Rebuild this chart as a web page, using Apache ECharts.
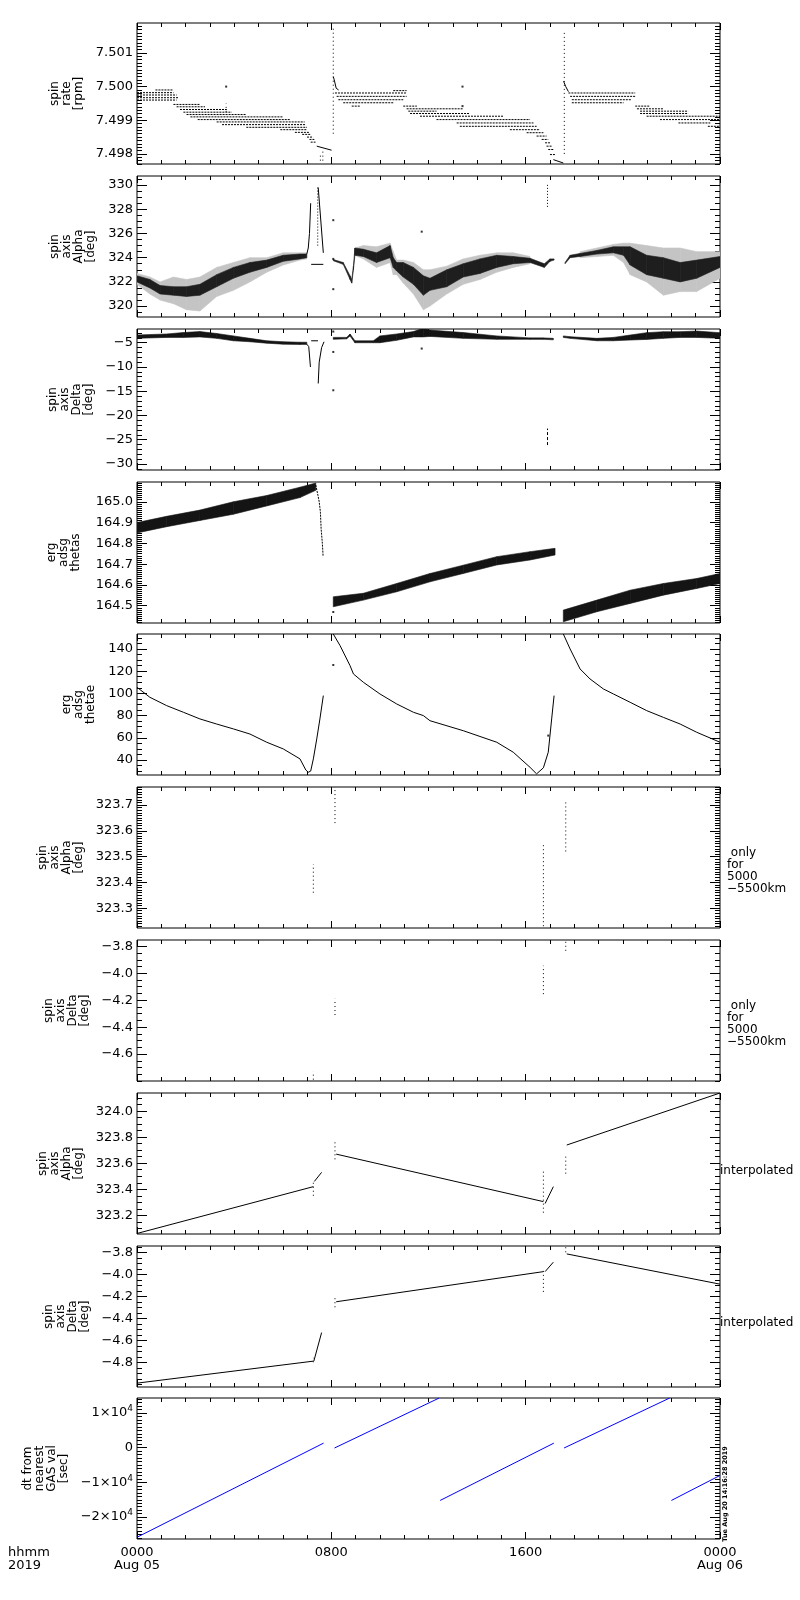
<!DOCTYPE html>
<html><head><meta charset="utf-8">
<script src="https://cdn.jsdelivr.net/npm/echarts@6/dist/echarts.min.js"></script>
<style>html,body{margin:0;padding:0;background:#fff}#c{width:800px;height:1600px}</style>
</head><body><div id="c"></div>
<script>
// ---------------- time axis (hours since 0000 Aug 05 2019) ----------------
const timeTicks = [0, 8, 16, 24];
const timeTickLabels = {0: '0000\nAug 05', 8: '0800', 16: '1600', 24: '0000\nAug 06'};

// ---------------- panel 1: spin rate [rpm] ----------------
const rateTicks = [7.498, 7.499, 7.500, 7.501];
// rows of quantised samples: [tStart, tEnd, rpm]
const rateRows = [
 [0.76,1.50,7.49990],[0.00,1.50,7.49982],[0.00,1.63,7.49975],[0.00,1.70,7.49967],[0.00,1.63,7.49960],
 [1.50,2.59,7.49947],[1.63,2.80,7.49940],[1.77,3.70,7.49932],[1.91,3.90,7.49924],[2.04,4.50,7.49917],
 [2.20,6.00,7.49910],[2.50,6.30,7.49902],[3.28,6.90,7.49895],[3.50,6.92,7.49887],[4.50,7.00,7.49879],
 [5.90,7.00,7.49872],[6.50,7.10,7.49864],[6.80,7.15,7.49858],[7.00,7.25,7.49850],[7.10,7.30,7.49843],
 [7.15,7.35,7.49835],
 [10.55,11.10,7.49988],[8.15,11.10,7.49981],[8.22,11.10,7.49971],[8.29,10.96,7.49961],[8.49,10.55,7.49952],
 [8.84,9.18,7.49942],[10.96,11.52,7.49942],[11.10,13.43,7.49934],[11.17,12.33,7.49927],[11.24,13.70,7.49920],
 [11.65,15.08,7.49912],[12.33,16.18,7.49902],[13.16,16.32,7.49892],[13.29,16.45,7.49882],[15.35,16.59,7.49872],
 [16.04,16.73,7.49863],[16.45,16.86,7.49853],[16.66,16.93,7.49843],[16.80,17.00,7.49833],[16.86,17.07,7.49823],
 [16.93,17.14,7.49813],[17.00,17.21,7.49798],
 [17.76,20.51,7.49981],[17.83,20.51,7.49971],[17.90,20.37,7.49961],[17.90,20.03,7.49952],
 [20.51,21.12,7.49942],[20.58,21.67,7.49934],[20.71,22.69,7.49927],[20.71,22.69,7.49920],[20.98,24.00,7.49912],
 [21.53,24.00,7.49902],[22.29,23.60,7.49892],[23.50,24.00,7.49882]
];
// vertical dotted runs: [t, from, to]
const rateSpikes = [[8.08,7.4986,7.5018],[17.59,7.4980,7.50164],[3.67,7.49925,7.4995],[7.55,7.4978,7.4980],[7.65,7.4978,7.4981]];
const rateDots = [[3.67,7.5000],[13.40,7.5000],[13.40,7.49942]];
const rateLines = [
 [[7.40,7.49823],[8.01,7.49811]],
 [[8.08,7.50030],[8.12,7.50020],[8.20,7.49995],[8.30,7.49990]],
 [[17.14,7.49783],[17.55,7.49773]],
 [[17.56,7.50016],[17.65,7.50000],[17.76,7.49985]]
];

// ---------------- panel 2: spin axis Alpha [deg] ----------------
const alphaTicks = [320, 322, 324, 326, 328, 330];
// bands: [t, low, high]
const alphaCoreA = [[0,322.0,322.5],[0.53,321.5,322.2],[0.95,321.0,321.7],[1.5,320.9,321.6],[2.04,320.8,321.6],[2.59,320.9,321.8],[3.28,321.6,322.6],[3.97,322.3,323.2],[4.65,322.8,323.6],[5.34,323.2,323.8],[6.02,323.7,324.2],[6.71,323.9,324.3],[6.99,324.0,324.3]];
const alphaOuterA = [[0,321.8,322.7],[0.53,321.0,322.4],[0.95,320.5,322.0],[1.5,320.2,322.4],[2.04,319.7,322.2],[2.59,319.6,322.4],[3.28,320.8,323.2],[3.97,321.3,323.6],[4.65,322.0,324.0],[5.34,322.8,324.0],[6.02,323.4,324.4],[6.71,323.8,324.4],[6.99,323.9,324.4]];
const alphaCoreB = [[8.08,323.75,323.85],[8.49,323.45,323.6],[8.77,322.2,322.5],[8.84,321.9,322.2],[8.91,323.0,323.3],[8.97,324.2,324.8],[9.32,324.1,324.7],[9.86,323.6,324.4],[10.42,324.0,325.0],[10.55,323.2,324.0],[10.69,322.9,323.6],[10.96,322.4,323.6],[11.38,321.8,323.2],[11.79,320.9,322.5],[12.06,321.3,322.3],[12.75,321.6,323.0],[13.43,322.4,323.5],[14.12,322.7,323.9],[14.81,323.2,324.2],[15.49,323.5,324.1],[16.18,323.6,323.95],[16.77,323.2,323.5],[17.0,323.7,323.9],[17.17,323.8,323.9]];
const alphaOuterB = [[8.97,324.2,324.8],[9.32,323.9,325.0],[9.86,323.2,324.9],[10.42,323.6,325.2],[10.55,322.6,324.5],[10.69,322.6,323.8],[10.96,321.9,323.8],[11.38,321.0,323.6],[11.79,319.7,323.0],[12.06,320.0,323.0],[12.75,321.0,323.3],[13.43,321.8,323.9],[14.12,322.2,324.2],[14.81,322.8,324.4],[15.49,323.2,324.4],[16.18,323.5,324.1]];
const alphaCoreC = [[17.62,323.5,323.6],[17.83,324.0,324.2],[18.24,324.1,324.35],[18.93,324.3,324.6],[19.61,324.4,324.9],[20.03,324.2,324.9],[20.3,323.4,324.9],[20.98,322.6,324.2],[21.67,322.3,324.0],[22.36,322.0,323.6],[23.04,322.3,323.8],[24.0,323.2,324.1]];
const alphaOuterC = [[18.24,324.0,324.5],[18.93,324.1,324.8],[19.61,324.2,325.1],[20.03,323.6,325.2],[20.3,322.6,325.2],[20.98,322.0,325.0],[21.67,320.9,324.8],[22.36,321.2,324.8],[23.04,321.2,324.5],[24.0,322.3,324.5]];
const alphaSpikes = [[7.44,325.0,329.8],[16.9,328.2,330.1]];
const alphaLines = [
 [[6.99,324.3],[7.05,324.8],[7.10,326.0],[7.15,328.5]],
 [[7.17,323.45],[7.67,323.45]],
 [[7.46,329.8],[7.67,324.4]]
];
const alphaDots = [[8.08,327.1],[8.08,323.9],[8.08,321.4],[11.72,326.15]];

// ---------------- panel 3: spin axis Delta [deg] ----------------
const deltaTicks = [-30, -25, -20, -15, -10, -5];
const deltaBandA = [[0,-4.1,-3.4],[1.22,-3.9,-3.2],[1.91,-3.9,-2.9],[2.59,-3.8,-2.7],[3.28,-4.1,-3.1],[3.97,-4.6,-3.6],[4.65,-4.8,-4.1],[5.34,-5.1,-4.6],[6.02,-5.3,-4.8],[6.71,-5.35,-4.9],[6.99,-5.35,-4.9]];
const deltaBandB = [[8.08,-4.3,-3.9],[8.63,-4.2,-3.9],[8.77,-3.6,-3.2],[8.97,-5.0,-4.6],[9.73,-5.0,-4.6],[10.0,-5.0,-3.6],[10.69,-4.5,-3.2],[11.38,-3.8,-2.7],[11.79,-3.8,-2.0],[12.06,-3.7,-2.4],[13.43,-4.1,-2.9],[14.81,-4.3,-3.6],[16.18,-4.3,-4.0],[16.73,-4.3,-4.0],[17.14,-4.4,-4.1]];
const deltaBandC = [[17.55,-3.9,-3.6],[17.83,-4.1,-3.76],[18.93,-4.59,-4.1],[19.61,-4.59,-3.9],[20.3,-4.45,-3.42],[20.98,-4.31,-2.93],[21.67,-4.1,-2.73],[22.36,-3.9,-2.73],[23.04,-3.9,-2.6],[24.0,-4.1,-2.93]];
const deltaSpikes = [[16.9,-26.1,-22.7]];
const deltaLines = [
 [[6.99,-5.3],[7.07,-5.8],[7.14,-10.0]],
 [[7.17,-4.6],[7.45,-4.6]],
 [[7.46,-13.4],[7.50,-9.0],[7.60,-6.0],[7.70,-4.8]]
];
const deltaDots = [[8.08,-2.7],[8.08,-6.9],[8.08,-14.8],[11.72,-6.2]];

// ---------------- panel 4: erg adsg thetas ----------------
const thetasTicks = [164.5, 164.6, 164.7, 164.8, 164.9, 165.0];
const thetasBandA = [[0,164.85,164.90],[1.22,164.88,164.93],[2.59,164.91,164.96],[3.97,164.94,165.0],[5.34,164.98,165.03],[6.71,165.02,165.07],[7.36,165.055,165.09]];
const thetasBandB = [[8.08,164.495,164.543],[9.32,164.527,164.56],[10.69,164.567,164.607],[12.06,164.615,164.655],[13.43,164.655,164.695],[14.81,164.696,164.736],[16.18,164.72,164.76],[17.21,164.744,164.776]];
const thetasBandC = [[17.55,164.423,164.479],[18.93,164.471,164.527],[20.3,164.511,164.575],[21.67,164.551,164.607],[23.04,164.583,164.631],[24.0,164.607,164.655]];
const thetasLines = [[[7.36,165.08],[7.45,165.03],[7.50,165.0],[7.55,164.95],[7.58,164.87],[7.63,164.80],[7.66,164.74]]];
const thetasDots = [[8.08,164.47]];

// ---------------- panel 5: erg adsg thetae ----------------
const thetaeTicks = [40, 60, 80, 100, 120, 140];
const thetaeLines = [
 [[0,105.5],[0.53,96.5],[1.22,89],[1.91,83],[2.59,77],[3.28,72.4],[3.97,68],[4.65,63.4],[5.34,56],[6.02,50],[6.71,41],[6.95,31],[7.05,29],[7.15,30],[7.26,41],[7.40,59],[7.53,77],[7.67,98]],
 [[8.08,153.5],[8.36,143],[8.77,125],[8.91,117.5],[9.32,110],[10.0,99.5],[10.69,90.5],[11.38,83],[11.79,80],[12.06,75.4],[13.43,66.4],[14.81,56],[15.49,47],[16.18,33.4],[16.45,27.5],[16.73,33],[16.93,47],[17.07,77],[17.17,98]],
 [[17.55,153.5],[17.83,140],[18.24,122],[18.65,113],[19.2,104],[19.61,99.5],[20.3,92],[20.98,84.5],[21.67,78.4],[22.36,72.4],[23.04,65],[24.0,56]]
];
const thetaeDots = [[8.08,125.6],[16.93,62]];

// ---------------- panel 6/7: spin axis (5000-5500 km only) ----------------
const alphaOnlyTicks = [323.3, 323.4, 323.5, 323.6, 323.7];
const alphaOnlyRuns = [[7.26,323.36,323.47],[8.15,323.63,323.77],[16.73,323.23,323.55],[17.65,323.52,323.71]];
const deltaOnlyTicks = [-4.6, -4.4, -4.2, -4.0, -3.8];
const deltaOnlyRuns = [[7.26,-4.79,-4.73],[8.15,-4.31,-4.19],[16.73,-4.155,-3.944],[17.65,-3.833,-3.758]];

// ---------------- panel 8/9: interpolated ----------------
const alphaIntTicks = [323.2, 323.4, 323.6, 323.8, 324.0];
const alphaIntLines = [
 [[0,323.06],[7.26,323.42]],
 [[7.30,323.46],[7.60,323.53]],
 [[8.20,323.67],[16.73,323.305]],
 [[16.80,323.29],[17.14,323.42]],
 [[17.69,323.74],[24,324.14]]
];
const alphaIntRuns = [[7.26,323.35,323.47],[8.15,323.63,323.78],[16.73,323.22,323.55],[17.65,323.52,323.66]];
const deltaIntTicks = [-4.8, -4.6, -4.4, -4.2, -4.0, -3.8];
const deltaIntLines = [
 [[0,-4.99],[7.26,-4.79]],
 [[7.28,-4.79],[7.60,-4.53]],
 [[8.20,-4.25],[16.73,-3.976]],
 [[16.80,-3.976],[17.14,-3.89]],
 [[17.69,-3.815],[24,-4.09]]
];
const deltaIntRuns = [[7.26,-4.80,-4.76],[8.15,-4.30,-4.20],[16.73,-4.16,-3.95],[17.65,-3.80,-3.74]];

// ---------------- panel 10: dt from nearest GAS val [sec] ----------------
const dtTicks = [-20000, -10000, 0, 10000];
const dtLines = [
 [[0,-25800],[7.68,1300]],
 [[8.13,-100],[12.44,14300]],
 [[12.48,-15200],[17.16,1300]],
 [[17.58,-100],[21.93,14300]],
 [[22.0,-15200],[24,-8000]]
];

// ====================================================================
const FONT = 'DejaVu Sans';
const BLACK = '#000';
const tops = [23,176,329,482,634,787,940,1093,1246,1398];
const H = 141;
const minus = s => s.replace('-', '\u2212');
const fmtF = d => v => minus(Number(v).toFixed(d));
const fmtDt = v => v === 0 ? '0' : minus((v/1e4).toFixed(0)) + '\u00d710{s|4}';

const panels = [
 {name:'spin\nrate\n[rpm]', min:7.4977, max:7.50189, ticks:rateTicks, minor:0.0001, fmt:fmtF(3), gap:50},
 {name:'spin\naxis\nAlpha\n[deg]', min:319.1, max:330.75, ticks:alphaTicks, minor:0.5, fmt:fmtF(0), gap:40},
 {name:'spin\naxis\nDelta\n[deg]', min:-31.24, max:-2.17, ticks:deltaTicks, minor:1, fmt:fmtF(0), gap:40},
 {name:'erg\nadsg\nthetas', min:164.417, max:165.095, ticks:thetasTicks, minor:0.01, fmt:fmtF(1), gap:55},
 {name:'erg\nadsg\nthetae', min:26.5, max:153.5, ticks:thetaeTicks, minor:5, fmt:fmtF(0), gap:40},
 {name:'spin\naxis\nAlpha\n[deg]', min:323.223, max:323.77, ticks:alphaOnlyTicks, minor:0.01, fmt:fmtF(1), gap:52},
 {name:'spin\naxis\nDelta\n[deg]', min:-4.80, max:-3.753, ticks:deltaOnlyTicks, minor:0.05, fmt:fmtF(1), gap:45},
 {name:'spin\naxis\nAlpha\n[deg]', min:323.056, max:324.14, ticks:alphaIntTicks, minor:0.05, fmt:fmtF(1), gap:52},
 {name:'spin\naxis\nDelta\n[deg]', min:-5.025, max:-3.743, ticks:deltaIntTicks, minor:0.05, fmt:fmtF(1), gap:45},
 {name:'dt from\nnearest\nGAS val\n[sec]', min:-26300, max:14300, ticks:dtTicks, minor:1000, fmt:fmtDt, gap:64}
];

function minorValues(p) {
  const out = [];
  const k0 = Math.ceil(p.min / p.minor - 1e-6), k1 = Math.floor(p.max / p.minor + 1e-6);
  for (let k = k0; k <= k1; k++) {
    const v = +(k * p.minor).toFixed(6);
    if (!p.ticks.some(t => Math.abs(t - v) < p.minor * 0.01)) out.push(v);
  }
  return out;
}

const grid = [], xAxis = [], yAxis = [], series = [];
panels.forEach((p, i) => {
  grid.push({left:137, right:80, top:tops[i], height:H, show:true, borderColor:BLACK, borderWidth:1, backgroundColor:'transparent'});
  const last = i === panels.length - 1;
  const xBase = {type:'value', gridIndex:i, min:0, max:24, interval:8,
    axisLine:{show:false, onZero:false}, splitLine:{show:false},
    axisTick:{show:true, inside:true, length:7, lineStyle:{color:BLACK}},
    minorTick:{show:true, splitNumber:8, length:4, lineStyle:{color:BLACK}},
    minorSplitLine:{show:false}};
  xAxis.push(Object.assign({}, xBase, {position:'bottom',
    axisLabel:{show:last, color:BLACK, fontFamily:FONT, fontSize:13, lineHeight:13, margin:7,
      formatter: v => timeTickLabels[v] !== undefined ? timeTickLabels[v] : ''}}));
  xAxis.push(Object.assign({}, xBase, {position:'top', axisLabel:{show:false}}));
  const minors = minorValues(p);
  const yBase = {type:'value', gridIndex:i, min:p.min, max:p.max, axisLine:{show:false, onZero:false}, splitLine:{show:false}};
  yAxis.push(Object.assign({}, yBase, {position:'left',
    axisTick:{show:true, inside:true, length:10, customValues:p.ticks, lineStyle:{color:BLACK}},
    axisLabel:{show:true, customValues:p.ticks, formatter:p.fmt, color:BLACK, fontFamily:FONT, fontSize:13, margin:4,
      rich:{s:{fontSize:9, fontFamily:FONT, color:BLACK, padding:[0,0,8,0]}}},
    name:p.name, nameLocation:'middle', nameRotate:90, nameGap:p.gap,
    nameTextStyle:{color:BLACK, fontFamily:FONT, fontSize:12, lineHeight:12, align:'center'}}));
  yAxis.push(Object.assign({}, yBase, {position:'left',
    axisTick:{show:true, inside:true, length:5, customValues:minors, lineStyle:{color:BLACK}},
    axisLabel:{show:false, customValues:minors}}));
  yAxis.push(Object.assign({}, yBase, {position:'right',
    axisTick:{show:true, inside:true, length:10, customValues:p.ticks, lineStyle:{color:BLACK}},
    axisLabel:{show:false, customValues:p.ticks}}));
  yAxis.push(Object.assign({}, yBase, {position:'right',
    axisTick:{show:true, inside:true, length:5, customValues:minors, lineStyle:{color:BLACK}},
    axisLabel:{show:false, customValues:minors}}));
});

const X = i => i * 2, Y = i => i * 4;

function addBand(i, band, color) {
  const data = [];
  for (let k = 0; k < band.length - 1; k++) data.push([band[k][0], band[k][1], band[k][2], band[k+1][0], band[k+1][1], band[k+1][2]]);
  series.push({type:'custom', xAxisIndex:X(i), yAxisIndex:Y(i), clip:true, silent:true, animation:false,
    encode:{x:[0,3], y:[1,2,4,5]}, data,
    renderItem:(params, api) => {
      const a = api.coord([api.value(0), api.value(1)]), b = api.coord([api.value(0), api.value(2)]);
      const c = api.coord([api.value(3), api.value(5)]), d = api.coord([api.value(3), api.value(4)]);
      return {type:'polygon', shape:{points:[a, b, c, d]}, style:{fill:color, stroke:color, lineWidth:0.6}};
    }});
}
function addSegs(i, segs, color, dash, width) {
  series.push({type:'custom', xAxisIndex:X(i), yAxisIndex:Y(i), clip:true, silent:true, animation:false,
    encode:{x:[0,2], y:[1,3]}, data:segs,
    renderItem:(params, api) => {
      const a = api.coord([api.value(0), api.value(1)]), b = api.coord([api.value(2), api.value(3)]);
      return {type:'line', shape:{x1:a[0], y1:a[1], x2:b[0], y2:b[1]}, style:{stroke:color, lineWidth:width || 1, lineDash:dash || null}};
    }});
}
const rowsToSegs = rows => rows.map(r => [r[0], r[2], r[1], r[2]]);
const runsToSegs = runs => runs.map(r => [r[0], r[1], r[0], r[2]]);
function addLines(i, lines, color, dash) {
  lines.forEach(pts => series.push({type:'line', xAxisIndex:X(i), yAxisIndex:Y(i), data:pts, showSymbol:false,
    silent:true, animation:false, lineStyle:{color:color || BLACK, width:1, type: dash || 'solid'}}));
}
function addDots(i, pts) {
  series.push({type:'scatter', xAxisIndex:X(i), yAxisIndex:Y(i), data:pts, symbol:'rect', symbolSize:2,
    silent:true, animation:false, itemStyle:{color:BLACK}});
}

// panel 1
addSegs(0, rowsToSegs(rateRows), BLACK, [2,1], 1);
addSegs(0, runsToSegs(rateSpikes), BLACK, [1,3], 1);
addLines(0, rateLines);
addDots(0, rateDots);
// panel 2
[alphaOuterA, alphaOuterB, alphaOuterC].forEach(b => addBand(1, b, '#c4c4c4'));
[alphaCoreA, alphaCoreB, alphaCoreC].forEach(b => addBand(1, b, '#1e1e1e'));
addSegs(1, runsToSegs(alphaSpikes), BLACK, [1,2], 1);
addLines(1, alphaLines);
addDots(1, alphaDots);
// panel 3
[deltaBandA, deltaBandB, deltaBandC].forEach(b => addBand(2, b, '#141414'));
addSegs(2, runsToSegs(deltaSpikes), BLACK, [3,2], 1);
addLines(2, deltaLines);
addDots(2, deltaDots);
// panel 4
[thetasBandA, thetasBandB, thetasBandC].forEach(b => addBand(3, b, '#141414'));
addLines(3, thetasLines, BLACK, [2,1]);
addDots(3, thetasDots);
// panel 5
addLines(4, thetaeLines);
addDots(4, thetaeDots);
// panel 6, 7
addSegs(5, runsToSegs(alphaOnlyRuns), BLACK, [1,3], 1);
addSegs(6, runsToSegs(deltaOnlyRuns), BLACK, [1,3], 1);
// panel 8, 9
addLines(7, alphaIntLines);
addSegs(7, runsToSegs(alphaIntRuns), BLACK, [1,3], 1);
addLines(8, deltaIntLines);
addSegs(8, runsToSegs(deltaIntRuns), BLACK, [1,3], 1);
// panel 10
addLines(9, dtLines, '#0000ff');

const txt = (left, top, text, extra) => Object.assign({type:'text', left, top,
  style:{text, fill:BLACK, font:'12px "' + FONT + '"', lineHeight:12}}, extra || {});

const graphic = [
  txt(8, 1546, 'hhmm\n2019', {style:{text:'hhmm\n2019', fill:BLACK, font:'13px "' + FONT + '"', lineHeight:13}}),
  txt(727, 847, ' only\nfor\n5000\n\u22125500km'),
  txt(727, 1000, ' only\nfor\n5000\n\u22125500km'),
  txt(720, 1165, 'interpolated'),
  txt(720, 1317, 'interpolated'),
  {type:'text', x:725, y:1494, rotation:Math.PI/2,
   style:{text:'Tue Aug 20 14:16:28 2019', fill:BLACK, font:'bold 6.5px "' + FONT + '"', textAlign:'center', textVerticalAlign:'middle'}}
];

const chart = echarts.init(document.getElementById('c'), null, {renderer:'canvas'});
chart.setOption({backgroundColor:'#fff', animation:false, grid, xAxis, yAxis, series, graphic});
</script></body></html>
